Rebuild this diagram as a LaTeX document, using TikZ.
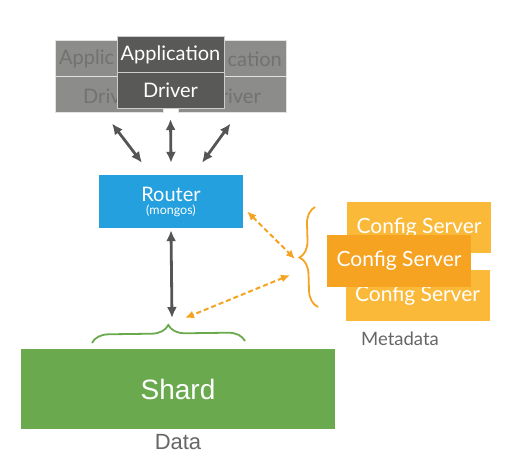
\documentclass[tikz,border=0pt]{standalone}
\usepackage{fontspec}
\setmainfont{Lato}
\newfontfamily\arialfont{Liberation Sans}
\usetikzlibrary{positioning,calc,arrows.meta,decorations.pathreplacing}

\definecolor{appdark}{HTML}{595957}
\definecolor{appback}{HTML}{8C8C8A}
\definecolor{appbacktext}{HTML}{727271}
\definecolor{routerblue}{HTML}{23A0DD}
\definecolor{cfglight}{HTML}{FBB93A}
\definecolor{cfgdark}{HTML}{F6A322}
\definecolor{shardgreen}{HTML}{6BA94F}
\definecolor{linkgray}{HTML}{555555}
\definecolor{labelgray}{HTML}{666666}

\tikzset{
	backbox/.style={fill=appback, draw=white!75!appback, line width=1pt, minimum width=108pt, minimum height=36pt, inner sep=0pt},
	backtext/.style={text=appbacktext, inner sep=0pt, font=\fontsize{20}{20}\selectfont},
	frontbox/.style={fill=appdark, draw=white!70!appdark, line width=1pt, minimum width=107pt, minimum height=36pt, inner sep=0pt, text=white, font=\fontsize{20}{20}\selectfont},
	cfgbox/.style={minimum width=144pt, minimum height=51pt, inner sep=0pt, text=white, font=\fontsize{21}{21}\selectfont},
	link/.style={linkgray, line width=2.8pt, {Latex[length=11pt,width=10pt]}-{Latex[length=11pt,width=10pt]}},
	metalink/.style={cfgdark, line width=2pt, dash pattern=on 5pt off 3pt, {Latex[length=9pt,width=8pt]}-{Latex[length=9pt,width=8pt]}},
}

\begin{document}
\begin{tikzpicture}[x=1pt,y=-1pt]
	\useasboundingbox[fill=white] (0,0) rectangle (520,462);
	% applications and drivers (back)
	\node[backbox] (appL) at (109,59) {};
	\node[backbox] (drvL) at (109,95) {};
	\node[backbox] (appR) at (232.5,59) {};
	\node[backbox] (drvR) at (232.5,95) {};
	\node[backtext, anchor=west] (appLt) at (59,59) {Applic};
	\node[backtext, anchor=west] (drvLt) at (83,96) {Driv};
	\node[backtext, anchor=east] (appRt) at (282,59) {cation};
	\node[backtext, anchor=east] (drvRt) at (261,96) {river};
	% application and driver (front)
	\node[frontbox] (app) at (170.5,55) {Application};
	\node[frontbox] (drv) at (170.5,90.5) {Driver};
	% router
	\node[fill=routerblue, minimum width=144pt, minimum height=53pt, inner sep=0pt, text=white, align=center] (router) at (171,201.5)
		{{\fontsize{20}{20}\selectfont Router}\\[1pt]{\fontsize{12.5}{12.5}\selectfont (mongos)}};
	% config servers
	\node[cfgbox, fill=cfglight] (cfgA) at (419,227.5) {Config Server};
	\node[cfgbox, fill=cfglight] (cfgC) at (417.5,296) {Config Server};
	\node[cfgbox, fill=cfgdark, minimum height=52pt] (cfgB) at (399,261) {Config Server};
	\node[text=labelgray, font=\fontsize{18.5}{18.5}\selectfont] (meta) at (400,339) {Metadata};
	% shard
	\node[fill=shardgreen, minimum width=314pt, minimum height=80pt, inner sep=0pt, text=white, font=\arialfont\fontsize{28}{28}\selectfont] (shard) at (178,389) {Shard};
	\node[text=labelgray, font=\arialfont\fontsize{22}{22}\selectfont] (data) at (178,442) {Data};
	% braces
	\draw[cfgdark, line width=1.8pt, decorate, decoration={brace, amplitude=17pt}] (318,307) -- (315,207);
	\coordinate (cfgtip) at (298,266);
	\draw[shardgreen, line width=1.8pt, decorate, decoration={brace, amplitude=17pt}] (92,343) -- (245,341);
	\coordinate (shardtip) at (172,324);
	% links
	\draw[link] ($(drvL.south)+(3,10)$) -- ($(router.north)+(-29,-12)$);
	\draw[link] ($(drv.south)+(0,10)$) -- ($(router.north)+(0,-12)$);
	\draw[link] ($(drvR.south)+(-2,10)$) -- ($(router.north)+(31,-12)$);
	\draw[link] ($(router.south)+(0,2)$) -- ($(shardtip)+(0,-6)$);
	\draw[metalink] ($(router.east)+(4,10)$) -- ($(cfgtip)+(-3,-7)$);
	\draw[metalink] ($(cfgtip)+(-8,9)$) -- ($(shardtip)+(13,-6)$);
\end{tikzpicture}
\end{document}
